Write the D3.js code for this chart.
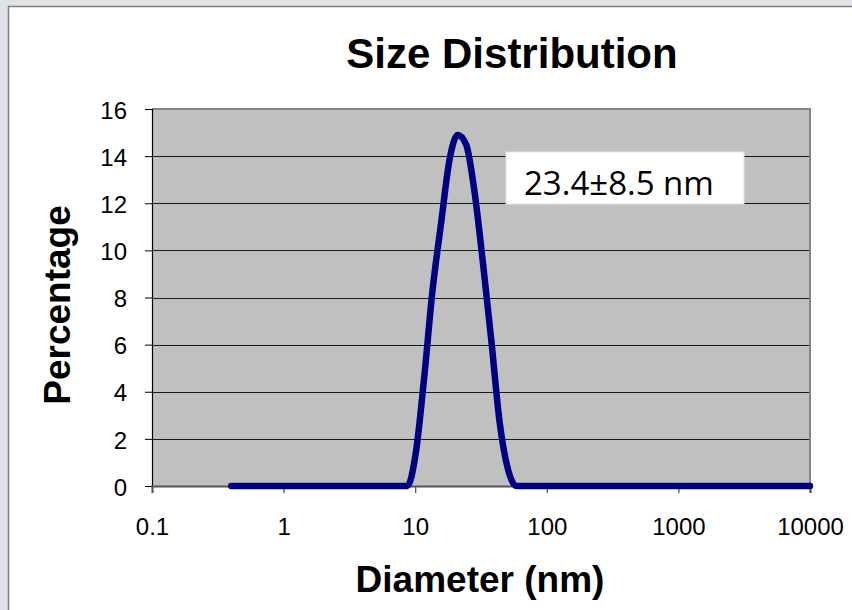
<!DOCTYPE html>
<html>
<head>
<meta charset="utf-8">
<script src="https://cdn.jsdelivr.net/npm/d3@7"></script>
<style>
  html, body { margin: 0; padding: 0; background: #dfe2e7; overflow: hidden; }
  svg { display: block; }
</style>
</head>
<body>
<div id="chart"></div>
<script>
// size bins (nm), as exported by the instrument
var diameters = [0.4, 0.4632, 0.5365, 0.6213, 0.7195, 0.8332, 0.9649, 1.117, 1.294, 1.499,
  1.736, 2.01, 2.328, 2.696, 3.122, 3.615, 4.187, 4.849, 5.615, 6.503,
  7.531, 8.721, 10.1, 11.7, 13.54, 15.69, 18.17, 21.04, 24.36, 28.21,
  32.67, 37.84, 43.82, 50.75, 58.77, 68.06, 78.82, 91.28, 105.7, 122.4,
  141.8, 164.2, 190.1, 220.2, 255, 295.3, 342, 396.1, 458.7, 531.2,
  615.1, 712.4, 825, 955.4, 1106, 1281, 1484, 1718, 1990, 2305,
  2669, 3091, 3580, 4145, 4801, 5560, 6439, 7456, 8635, 10000];

// percentage per bin
var percentage = [0, 0, 0, 0, 0, 0, 0, 0, 0, 0,
  0, 0, 0, 0, 0, 0, 0, 0, 0, 0,
  0, 0, 1.4, 4.6, 8.3, 11.1, 13.8, 14.9, 14.5, 12.5,
  9.5, 6.2, 2.7, 0.7, 0, 0, 0, 0, 0, 0,
  0, 0, 0, 0, 0, 0, 0, 0, 0, 0,
  0, 0, 0, 0, 0, 0, 0, 0, 0, 0,
  0, 0, 0, 0, 0, 0, 0, 0, 0, 0];

var xTicks = [0.1, 1, 10, 100, 1000, 10000];
var yTicks = [0, 2, 4, 6, 8, 10, 12, 14, 16];

var chartTitle = "Size Distribution";
var xTitle = "Diameter (nm)";
var yTitle = "Percentage";
var note = "23.4\u00b18.5 nm";

var W = 852, H = 610;
var margin = {top: 109, right: 42, bottom: 124, left: 152},
    width = W - margin.left - margin.right,
    height = H - margin.top - margin.bottom;

var svg = d3.select("#chart").append("svg")
    .attr("width", W)
    .attr("height", H);

// white chart sheet, runs off the right and bottom of the window
svg.append("rect")
    .attr("x", 8.5).attr("y", 6.5)
    .attr("width", W).attr("height", H)
    .attr("fill", "#fff")
    .attr("stroke", "#7f7f7f")
    .attr("stroke-width", 1.5);

var g = svg.append("g")
    .attr("transform", "translate(" + margin.left + "," + margin.top + ")");

var x = d3.scaleLog().domain([0.1, 10000]).range([0, width]);
var y = d3.scaleLinear().domain([0, 16]).range([height, 0]);

// plot area
g.append("rect")
    .attr("width", width).attr("height", height)
    .attr("fill", "#c0c0c0");

// gridlines
g.append("g")
    .selectAll("line")
    .data(yTicks.filter(function(d) { return d > 0 && d < 16; }))
    .enter().append("line")
    .attr("x1", 0).attr("x2", width)
    .attr("y1", function(d) { return Math.round(y(d)) + 0.5; })
    .attr("y2", function(d) { return Math.round(y(d)) + 0.5; })
    .attr("stroke", "#1a1a1a")
    .attr("stroke-width", 1);

// top / right frame
g.append("path")
    .attr("d", "M0,0H" + width + "V" + height)
    .attr("fill", "none")
    .attr("stroke", "#858585")
    .attr("stroke-width", 2);

// y axis
var yAxis = g.append("g")
    .call(d3.axisLeft(y).tickValues(yTicks).tickSize(7).tickPadding(18).tickFormat(d3.format("d")));
yAxis.select(".domain").attr("stroke", "#000").attr("stroke-width", 1.2);
yAxis.selectAll(".tick line").attr("stroke", "#000");
yAxis.selectAll("text")
    .attr("font-family", "'Liberation Sans', Arial, sans-serif")
    .attr("font-size", 24)
    .attr("dy", "0.38em")
    .attr("fill", "#000");

// x axis
var xAxis = g.append("g")
    .attr("transform", "translate(0," + height + ")")
    .call(d3.axisBottom(x).tickValues(xTicks).tickSize(7).tickPadding(25)
      .tickFormat(function(d) { return d < 1 ? "0.1" : d3.format("d")(d); }));
xAxis.select(".domain").attr("stroke", "#555").attr("stroke-width", 2);
xAxis.selectAll(".tick line").attr("stroke", "#555").attr("stroke-width", 1.3);
xAxis.selectAll("text")
    .attr("font-family", "'Liberation Sans', Arial, sans-serif")
    .attr("font-size", 24)
    .attr("fill", "#000");

// the distribution curve (monotone so the feet don't dip under zero)
var line = d3.line()
    .x(function(d, i) { return x(diameters[i]); })
    .y(function(d) { return y(d); })
    .curve(d3.curveMonotoneX);

g.append("path")
    .datum(percentage)
    .attr("d", line)
    .attr("fill", "none")
    .attr("stroke", "#000080")
    .attr("stroke-width", 6.5)
    .attr("stroke-linecap", "round")
    .attr("stroke-linejoin", "round");

// annotation box
svg.append("rect")
    .attr("x", 506).attr("y", 152)
    .attr("width", 238).attr("height", 52)
    .attr("fill", "#fff")
    .attr("stroke", "#e3e3e3")
    .attr("stroke-width", 1);
svg.append("text")
    .attr("x", 524).attr("y", 195)
    .attr("font-family", "'Open Sans', sans-serif")
    .attr("font-size", 33)
    .attr("fill", "#000")
    .text(note);

// titles
svg.append("text")
    .attr("x", 512).attr("y", 68)
    .attr("text-anchor", "middle")
    .attr("font-family", "'Liberation Sans', Arial, sans-serif")
    .attr("font-weight", "bold")
    .attr("font-size", 42)
    .text(chartTitle);

svg.append("text")
    .attr("x", 480).attr("y", 592)
    .attr("text-anchor", "middle")
    .attr("font-family", "'Liberation Sans', Arial, sans-serif")
    .attr("font-weight", "bold")
    .attr("font-size", 37)
    .text(xTitle);

svg.append("text")
    .attr("transform", "translate(70,305) rotate(-90)")
    .attr("text-anchor", "middle")
    .attr("font-family", "'Liberation Sans', Arial, sans-serif")
    .attr("font-weight", "bold")
    .attr("font-size", 37)
    .text(yTitle);
</script>
</body>
</html>
